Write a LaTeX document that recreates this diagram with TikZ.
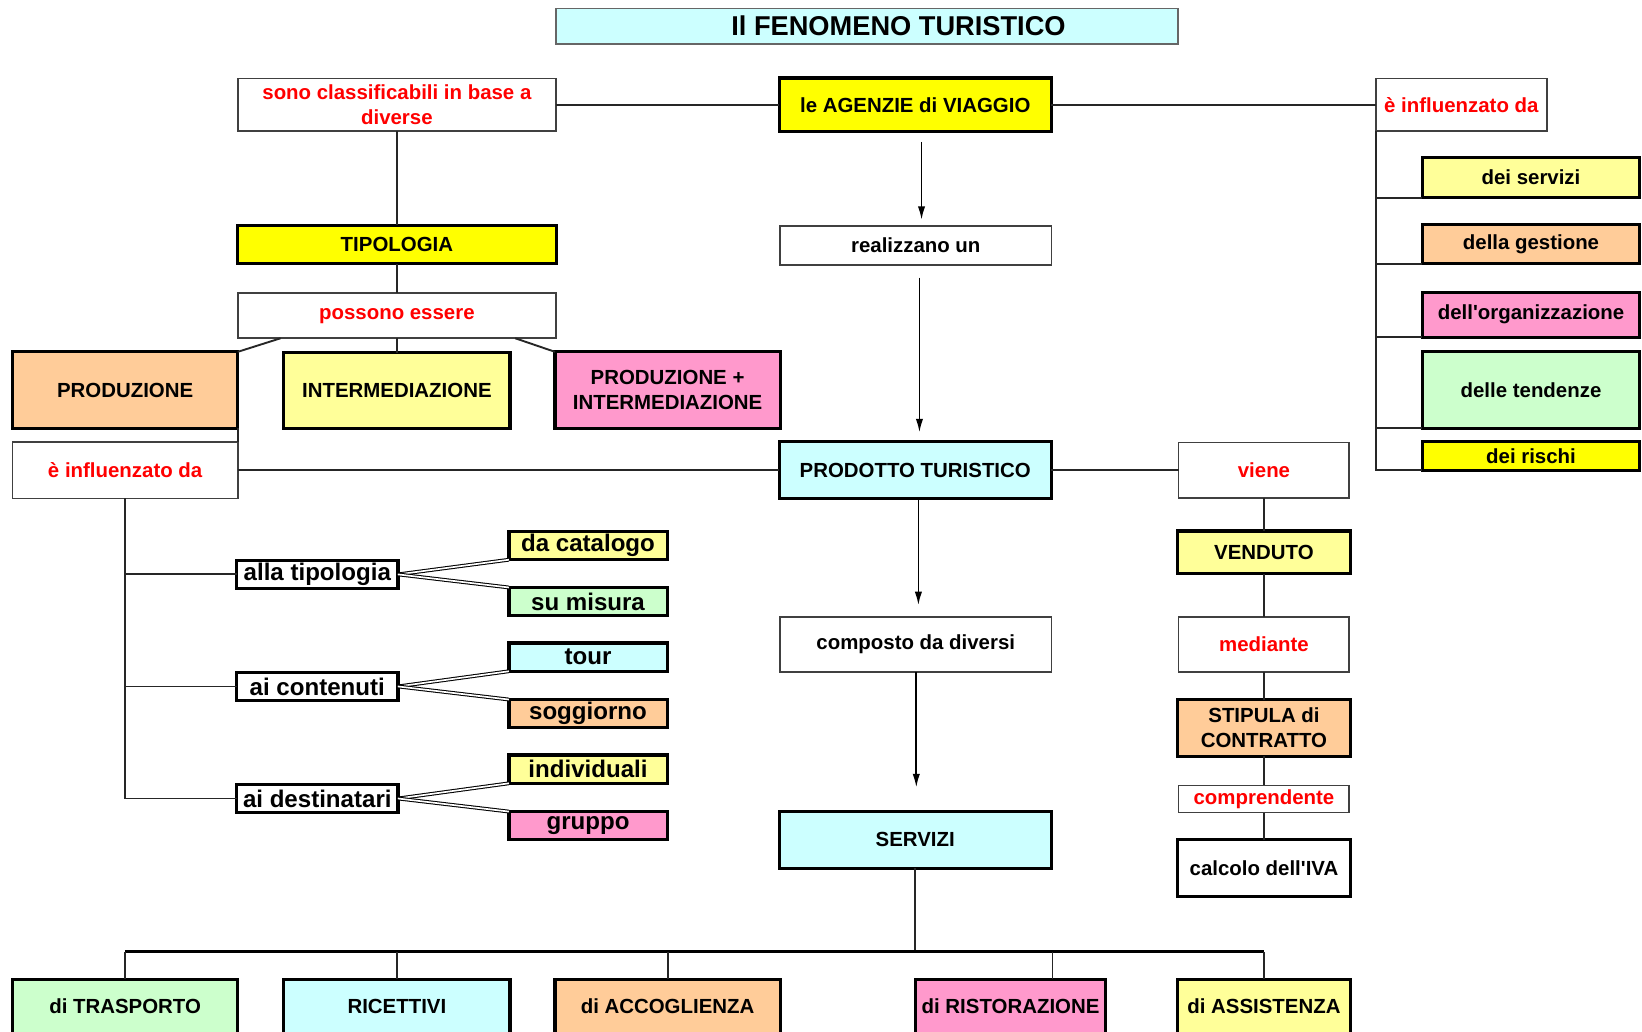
\documentclass[tikz,border=0pt]{standalone}
\usepackage{fontspec}
\setmainfont{Liberation Sans}
\usetikzlibrary{arrows.meta}

\definecolor{cyanL}{HTML}{CCFFFF}
\definecolor{yelF}{HTML}{FFFF00}
\definecolor{yelL}{HTML}{FFFF99}
\definecolor{peach}{HTML}{FFCC99}
\definecolor{pinkL}{HTML}{FF99CC}
\definecolor{greenL}{HTML}{CCFFCC}
\definecolor{redT}{HTML}{FF0000}

\newcommand\fsmain{\fontsize{19.5}{24}\selectfont\bfseries}
\newcommand\fsbig{\fontsize{23}{26}\selectfont\bfseries}
\newcommand\fstitle{\fontsize{26}{30}\selectfont\bfseries}

\begin{document}
\begin{tikzpicture}[x=1pt,y=-1pt,
  base/.style={rectangle, inner sep=0pt, outer sep=0pt, align=center, font=\fsmain},
  thinbox/.style={base, draw=black!75, line width=1.6pt, fill=white},
  thickbox/.style={base, draw=black, line width=3pt},
  redtxt/.style={text=redT},
  catbox/.style={thickbox, fill=white, font=\fsbig, minimum width=154pt, minimum height=27pt},
  leafbox/.style={thickbox, font=\fsbig, minimum width=151pt, minimum height=27pt},
  sidebox/.style={thickbox, minimum width=208pt},
  botbox/.style={thickbox, minimum height=52pt},
  ln/.style={draw=black!85, line width=1.8pt},
  busln/.style={draw=black, line width=3pt},
  dbl/.style={draw=black, line width=1pt, double=white, double distance=1.6pt},
  arr/.style={draw=black, line width=1.7pt, -{Latex[length=13pt,width=7pt]}}
]
\clip (0,0) rectangle (1568,985);
\fill[white] (0,0) rectangle (1568,985);

% title
\node[base, draw=black!60, line width=1.6pt, fill=cyanL, font=\fstitle,
      minimum width=594pt, minimum height=34pt] (title) at (828,25)
      {\hspace*{60pt}Il FENOMENO TURISTICO};

% top row
\node[thinbox, redtxt, minimum width=304pt, minimum height=50pt] (sono) at (379,100)
      {sono classificabili in base a\\diverse};
\node[thickbox, fill=yelF, minimum width=260pt, minimum height=51pt] (ag) at (874,100)
      {le AGENZIE di VIAGGIO};
\node[thinbox, redtxt, minimum width=163pt, minimum height=50pt] (infR) at (1395.5,100)
      {è influenzato da};

% influences of the agencies
\node[sidebox, fill=yelL,   minimum height=39pt] (dserv)  at (1462,169.5) {dei servizi};
\node[sidebox, fill=peach,  minimum height=38pt] (dgest)  at (1462,233)   {della gestione};
\node[sidebox, fill=pinkL,  minimum height=43pt] (dorg)   at (1462,300.5) {dell\textquotesingle organizzazione};
\node[sidebox, fill=greenL, minimum height=73pt] (dtend)  at (1462,372.5) {delle tendenze};
\node[sidebox, fill=yelF,   minimum height=27pt] (rischi) at (1462,435.5) {dei rischi};

% central column
\node[thinbox, minimum width=259pt, minimum height=37pt] (real) at (874.5,234.5) {realizzano un};
\node[thickbox, fill=cyanL, minimum width=260pt, minimum height=54pt] (prod) at (874,449)
      {PRODOTTO TURISTICO};
\node[thinbox, minimum width=259pt, minimum height=53pt] (comp) at (874.5,615.5) {composto da diversi};
\node[thickbox, fill=cyanL, minimum width=260pt, minimum height=54pt] (serv) at (874,802) {SERVIZI};

% typology branch
\node[thickbox, fill=yelF, minimum width=305pt, minimum height=37pt] (tip) at (379,233.5) {TIPOLOGIA};
\node[thinbox, redtxt, minimum width=304pt, minimum height=43pt] (poss) at (379,301.5) {possono essere};
\node[thickbox, fill=peach, minimum width=215pt, minimum height=73pt] (produz) at (119.5,372.5) {PRODUZIONE};
\node[thickbox, fill=yelL,  minimum width=216pt, minimum height=72pt] (interm) at (379,373) {INTERMEDIAZIONE};
\node[thickbox, fill=pinkL, minimum width=215pt, minimum height=73pt] (pi) at (637.5,372.5)
      {PRODUZIONE +\\INTERMEDIAZIONE};

% product influences
\node[thinbox, redtxt, minimum width=215pt, minimum height=54pt] (infL) at (119.5,449) {è influenzato da};
\node[catbox] (cat1) at (303,548.5) {alla tipologia};
\node[catbox] (cat2) at (303,655.5) {ai contenuti};
\node[catbox] (cat3) at (303,762.5) {ai destinatari};
\node[leafbox, fill=yelL]   (l1) at (561.5,521)   {da catalogo};
\node[leafbox, fill=greenL] (l2) at (561.5,574.5) {su misura};
\node[leafbox, fill=cyanL]  (l3) at (561.5,627.5) {tour};
\node[leafbox, fill=peach]  (l4) at (561.5,681.5) {soggiorno};
\node[leafbox, fill=yelL]   (l5) at (561.5,734.5) {individuali};
\node[leafbox, fill=pinkL]  (l6) at (561.5,788.5) {gruppo};

% sale chain
\node[thinbox, redtxt, minimum width=163pt, minimum height=53pt] (viene) at (1207,449) {viene};
\node[thickbox, fill=yelL, minimum width=165pt, minimum height=41pt] (vend) at (1207,527.5) {VENDUTO};
\node[thinbox, redtxt, minimum width=163pt, minimum height=53pt] (med) at (1207,615.5) {mediante};
\node[thickbox, fill=peach, minimum width=165pt, minimum height=54pt] (stip) at (1207,695)
      {STIPULA di\\CONTRATTO};
\node[thinbox, redtxt, minimum width=163pt, minimum height=26pt] (compr) at (1207,763) {comprendente};
\node[thickbox, fill=white, minimum width=165pt, minimum height=54pt] (calc) at (1207,829)
      {calcolo dell\textquotesingle IVA};

% services
\node[botbox, fill=greenL, minimum width=215pt] (tr)   at (119.5,961) {di TRASPORTO};
\node[botbox, fill=cyanL,  minimum width=216pt] (ric)  at (379,961)   {RICETTIVI};
\node[botbox, fill=peach,  minimum width=215pt] (acc)  at (637.5,961) {di ACCOGLIENZA};
\node[botbox, fill=pinkL,  minimum width=182pt] (rist) at (965,961)   {di RISTORAZIONE};
\node[botbox, fill=yelL,   minimum width=165pt] (ass)  at (1207,961)  {di ASSISTENZA};

% connectors: top row
\draw[ln] (sono.east) -- (ag.west);
\draw[ln] (ag.east) -- (infR.west);
\draw[ln] (infR.south west) |- (rischi.south west);
\foreach \n in {dserv,dgest,dorg,dtend}
  \draw[ln] (infR.south west |- \n.south west) -- (\n.south west);

% connectors: typology
\draw[ln] (sono.south) -- (tip.north);
\draw[ln] (tip.south) -- (poss.north);
\draw[ln] (poss.south) -- (interm.north);
\draw[ln] ([xshift=41pt]poss.south west) -- (produz.north east);
\draw[ln] ([xshift=-39pt]poss.south east) -- (pi.north west);
\draw[ln] (produz.south east) -- (infL.north east);

% connectors: product
\draw[arr] ([xshift=6pt,yshift=-10pt]ag.south) -- ([xshift=5.5pt,yshift=6pt]real.north);
\draw[arr] ([xshift=3.5pt,yshift=-12pt]real.south) -- ([xshift=4pt,yshift=9pt]prod.north);
\draw[arr] ([xshift=3pt]prod.south) -- ([xshift=2.5pt,yshift=11pt]comp.north);
\draw[arr] ([xshift=0.5pt]comp.south) -- ([xshift=1pt,yshift=23pt]serv.north);
\draw[ln] (infL.east) -- (prod.west);
\draw[ln] (prod.east) -- (viene.west);

% connectors: influences on the product
\draw[ln] (infL.south) |- (cat3.west);
\draw[ln] (infL.south |- cat1.west) -- (cat1.west);
\draw[ln] (infL.south |- cat2.west) -- (cat2.west);
\draw[dbl] (cat1.east) -- (l1.south west);
\draw[dbl] (cat1.east) -- (l2.north west);
\draw[dbl] (cat2.east) -- (l3.south west);
\draw[dbl] (cat2.east) -- (l4.north west);
\draw[dbl] (cat3.east) -- (l5.south west);
\draw[dbl] (cat3.east) -- (l6.north west);

% connectors: sale chain
\draw[ln] (viene.south) -- (vend.north);
\draw[ln] (vend.south) -- (med.north);
\draw[ln] (med.south) -- (stip.north);
\draw[ln] (stip.south) -- (compr.north);
\draw[ln] (compr.south) -- (calc.north);

% connectors: services bus
\coordinate (busy) at (0,909);
\draw[ln] (serv.south) -- (serv.south |- busy);
\draw[busln] (tr.north |- busy) -- (ass.north |- busy);
\draw[ln] (tr.north) -- (tr.north |- busy);
\draw[ln] (ric.north) -- (ric.north |- busy);
\draw[ln] (acc.north) -- (acc.north |- busy);
\draw[ln] ([xshift=40pt]rist.north) -- ([xshift=40pt]rist.north |- busy);
\draw[ln] (ass.north) -- (ass.north |- busy);
\end{tikzpicture}
\end{document}
